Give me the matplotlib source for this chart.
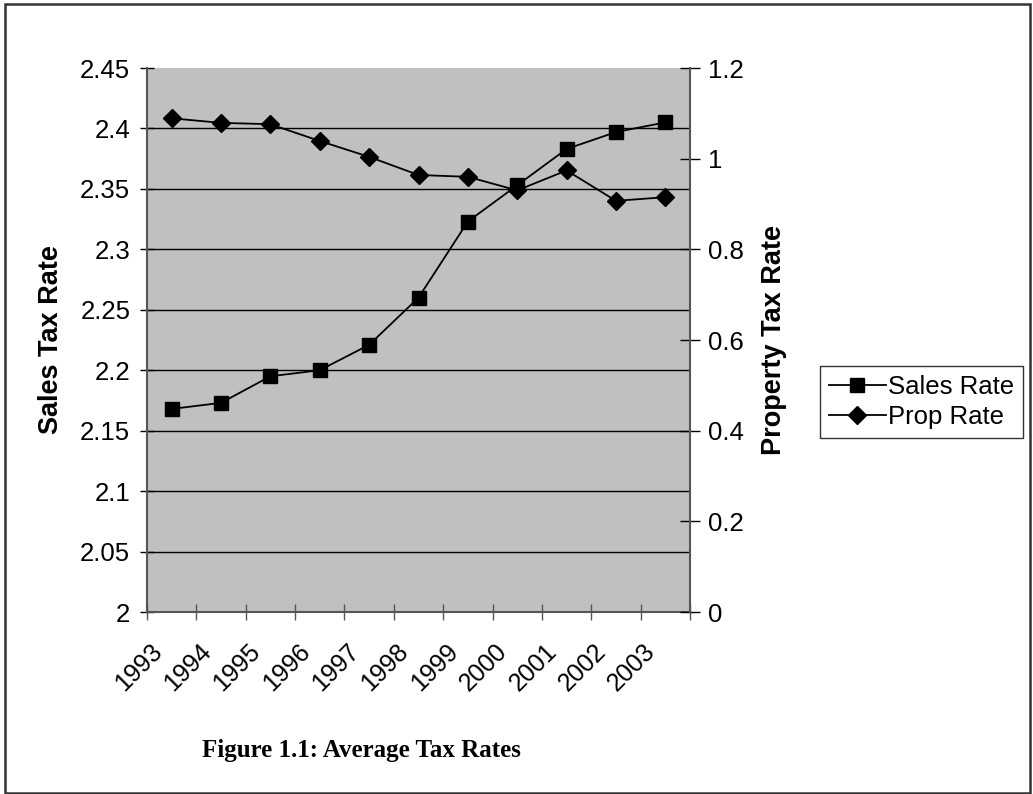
import matplotlib
matplotlib.use('Agg')
import matplotlib.pyplot as plt
from matplotlib.patches import Rectangle
from matplotlib.transforms import ScaledTranslation

plt.rcParams['font.family'] = ['Liberation Sans', 'DejaVu Sans']

# 数据
years = ['1993', '1994', '1995', '1996', '1997', '1998', '1999', '2000', '2001', '2002', '2003']
sales_rate = [2.168, 2.173, 2.195, 2.200, 2.221, 2.260, 2.323, 2.353, 2.383, 2.397, 2.405]
prop_rate = [1.089, 1.079, 1.076, 1.039, 1.004, 0.964, 0.960, 0.930, 0.974, 0.907, 0.915]
left_ticks = [2, 2.05, 2.1, 2.15, 2.2, 2.25, 2.3, 2.35, 2.4, 2.45]
right_ticks = [0, 0.2, 0.4, 0.6, 0.8, 1, 1.2]

W, H = 1033, 794
fig = plt.figure(figsize=(W / 100, H / 100), dpi=100)
fig.patch.set_facecolor('white')

# 外框
fig.add_artist(Rectangle((5 / W, 1.5 / H), 1025 / W, 789 / H, transform=fig.transFigure,
                         fill=False, edgecolor='#333333', linewidth=1.8))

ax = fig.add_axes([147 / W, 1 - 612 / H, (690 - 147) / W, (612 - 68) / H])
ax.set_facecolor('#C0C0C0')
x = [i + 0.5 for i in range(len(years))]

l1, = ax.plot(x, sales_rate, color='black', lw=1.3, marker='s', ms=10,
              markerfacecolor='black', label='Sales Rate', zorder=3)
ax.set_xlim(0, len(years))
ax.set_ylim(2, 2.45)
ax.set_yticks(left_ticks)
ax.set_yticklabels([f'{v:g}' for v in left_ticks])
ax.yaxis.grid(True, color='black', lw=1.0)
ax.set_axisbelow(True)
# 顶部边缘不画网格线
ax.get_ygridlines()[-1].set_visible(False)

ax.set_xticks(range(len(years) + 1))
ax.set_xticklabels([])
# 年份标签（Excel 风格：45° 旋转，略向左偏）
lab_tf = ax.get_xaxis_transform() + ScaledTranslation(-22 / 100, -27 / 100, fig.dpi_scale_trans)
for xi, yr in zip(x, years):
    ax.text(xi, 0, yr, transform=lab_tf, rotation=45, ha='right', va='top',
            rotation_mode='anchor', fontsize=18)
ax.tick_params(axis='x', which='major', direction='inout', length=12, width=1, color='#555555')
ax.tick_params(axis='y', direction='inout', length=10, width=1, labelsize=18.5, pad=7)
for s in ['top', 'right']:
    ax.spines[s].set_visible(False)
ax.spines['left'].set_color('#555555')
ax.spines['bottom'].set_color('#555555')
ax.spines['left'].set_linewidth(1.5)
ax.spines['bottom'].set_linewidth(1.5)
ax.set_ylabel('Sales Tax Rate', fontsize=19.5, fontweight='bold', labelpad=12)

ax2 = ax.twinx()
l2, = ax2.plot(x, prop_rate, color='black', lw=1.3, marker='D', ms=9,
               markerfacecolor='black', label='Prop Rate', zorder=3)
ax2.set_ylim(0, 1.2)
ax2.set_yticks(right_ticks)
ax2.set_yticklabels([f'{v:g}' for v in right_ticks])
ax2.tick_params(axis='y', direction='inout', length=14, width=1, labelsize=18.5, pad=6)
for s in ['top', 'left', 'bottom']:
    ax2.spines[s].set_visible(False)
ax2.spines['right'].set_color('#555555')
ax2.spines['right'].set_linewidth(1.5)
ax2.set_ylabel('Property Tax Rate', fontsize=19.5, fontweight='bold', labelpad=12)

leg = fig.legend(handles=[l1, l2], loc='center left',
                 bbox_to_anchor=(820 / W, 1 - 402 / H), fontsize=18.5,
                 frameon=True, fancybox=False, handlelength=2.2, handletextpad=0.1,
                 borderpad=0.35, labelspacing=0.25, borderaxespad=0)
leg.get_frame().set_edgecolor('black')
leg.get_frame().set_linewidth(1.0)

fig.text(361 / W, 1 - 750 / H, 'Figure 1.1: Average Tax Rates', ha='center', va='center',
         fontsize=18, fontweight='bold', family=['Liberation Serif', 'DejaVu Serif'])

fig.savefig('out.png', dpi=100)
